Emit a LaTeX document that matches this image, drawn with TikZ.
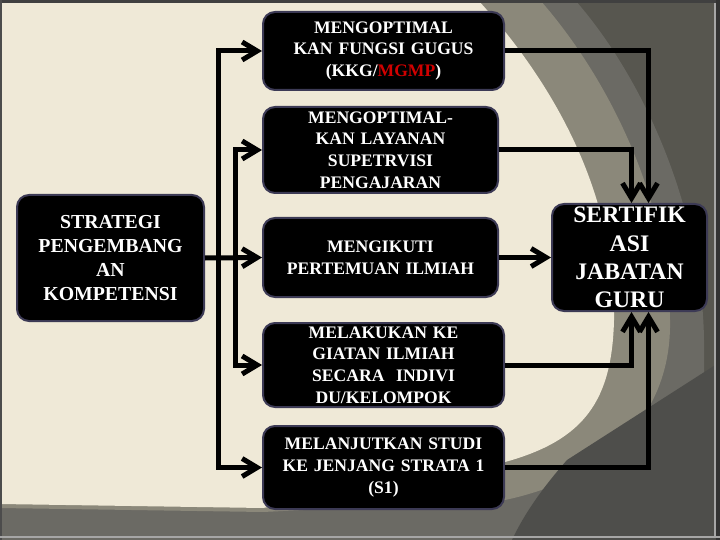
\documentclass[tikz,border=0pt]{standalone}
\usepackage{fontspec}
\setmainfont{Liberation Serif}
\usetikzlibrary{arrows.meta}

\definecolor{krem}{HTML}{EFE9D7}
\definecolor{abu1}{HTML}{8B887A}
\definecolor{abu2}{HTML}{6B6A64}
\definecolor{abu3}{HTML}{57564F}
\definecolor{abu4}{HTML}{4E4E4B}
\definecolor{tepi}{HTML}{3C3A55}
\definecolor{merah}{HTML}{D00000}

\begin{document}
\begin{tikzpicture}[x=1pt,y=-1pt,
		kotak/.style={fill=black, draw=tepi, line width=2pt, rounded corners=12pt, text=white, align=center, inner sep=0pt, font=\bfseries\fontsize{17.6}{21.6}\selectfont},
		panah/.style={line width=5pt, -{Straight Barb[length=15pt,width=18pt]}}]
		
		\useasboundingbox (0,0) rectangle (720,540);
		\fill[abu3] (0,0) rectangle (720,540);
		\fill[abu2] (0,0) -- (575,0) .. controls (645,80) and (702,210) .. (704,340) -- (704,540) -- (0,540) -- cycle;
		\fill[abu1] (0,0) -- (540,0) .. controls (610,80) and (668,200) .. (670,320) .. controls (672,420) and (600,480) .. (505,500) -- (263,512) -- (0,508) -- cycle;
		\fill[krem] (0,0) -- (478,0) .. controls (560,90) and (616,200) .. (614,320) .. controls (612,400) and (585,440) .. (505,462) -- (263,508) -- (0,504) -- cycle;
		\fill[abu4] (720,362) -- (567,460) .. controls (545,485) and (525,512) .. (512,540) -- (720,540) -- cycle;
		\fill[black!75] (0,0) rectangle (720,3);
		\fill[black!70] (0,0) rectangle (2,540);
		\fill[black!35] (714,3) rectangle (716,537);
		\fill[black!80] (716,0) rectangle (720,540);
		\fill[black!35] (0,536) rectangle (720,538);
		
		\node[kotak, font=\bfseries\fontsize{19.8}{24.1}\selectfont, text width=187pt, minimum height=126pt] (strategi) at (110.5,258) {STRATEGI\\PENGEMBANG\\AN\\KOMPETENSI};
		
		\node[kotak, text width=241pt, minimum height=78pt] (fungsi) at (383.5,51) {MENGOPTIMAL\\KAN FUNGSI GUGUS\\(KKG/\textcolor{merah}{MGMP})};
		\node[kotak, text width=235pt, minimum height=86pt] (supervisi) at (380.5,150) {MENGOPTIMAL-\\KAN LAYANAN\\SUPETRVISI\\PENGAJARAN};
		\node[kotak, text width=235pt, minimum height=79pt] (pertemuan) at (380.5,257.5) {MENGIKUTI\\PERTEMUAN ILMIAH};
		\node[kotak, text width=241pt, minimum height=84pt] (kegiatan) at (383.5,365) {MELAKUKAN KE\\GIATAN ILMIAH\\SECARA\ \ INDIVI\\DU/KELOMPOK};
		\node[kotak, text width=241pt, minimum height=83pt] (studi) at (383.5,467.5) {MELANJUTKAN STUDI\\KE JENJANG STRATA 1\\(S1)};
		
		\node[kotak, font=\bfseries\fontsize{23.7}{28.3}\selectfont, text width=155pt, minimum height=107pt] (sertifikasi) at (629.5,257.5) {SERTIFIK\\ASI\\JABATAN\\GURU};
		
		\draw[panah] (strategi.east) -- (pertemuan.west);
		\draw[panah] ([xshift=13.5pt]strategi.east) |- (fungsi.west);
		\draw[panah] ([xshift=13.5pt]strategi.east) |- (studi.west);
		\draw[panah] ([xshift=30.5pt]strategi.east) |- (supervisi.west);
		\draw[panah] ([xshift=30.5pt]strategi.east) |- (kegiatan.west);
		
		\draw[panah] (fungsi.east) -| ([xshift=19pt]sertifikasi.north);
		\draw[panah] (supervisi.east) -| ([xshift=2pt]sertifikasi.north);
		\draw[panah] (pertemuan.east) -- (sertifikasi.west);
		\draw[panah] (kegiatan.east) -| ([xshift=2pt]sertifikasi.south);
		\draw[panah] (studi.east) -| ([xshift=19pt]sertifikasi.south);
		
	\end{tikzpicture}
\end{document}
